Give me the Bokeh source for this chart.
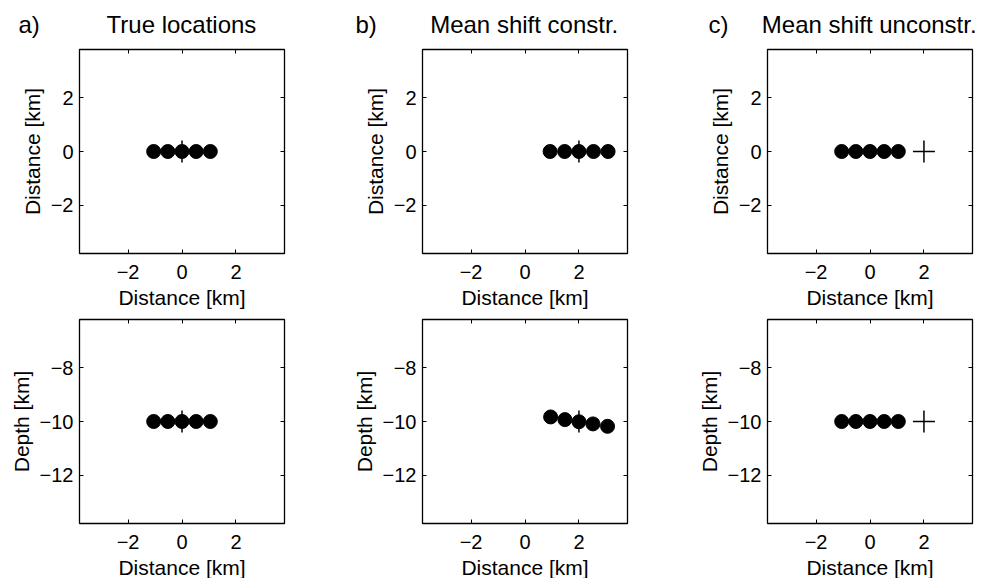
from bokeh.plotting import figure
from bokeh.layouts import column, row
from bokeh.models import LinearAxis, Range1d, FixedTicker
from bokeh.embed import file_html
from bokeh.resources import INLINE

FONT = "Liberation Sans"
NBSP = "\u00a0"

panel_letters = ["a)", "b)", "c)"]
panel_titles = ["True locations", "Mean shift constr.", "Mean shift unconstr."]

dist_ticks = [-2, 0, 2]
dist_tick_labels = ["−2", "0", "2"]
depth_ticks = [-12, -10, -8]
depth_tick_labels = ["−12", "−10", "−8"]

# a) true locations
true_x = [-1.05, -0.525, 0.0, 0.525, 1.05]
true_y = [0.0, 0.0, 0.0, 0.0, 0.0]
true_depth = [-10.0, -10.0, -10.0, -10.0, -10.0]
true_cx, true_cy, true_cz = 0.0, 0.0, -10.0

# b) mean shift constrained
constr_x = [0.93, 1.47, 2.0, 2.54, 3.08]
constr_y = [0.0, 0.0, 0.0, 0.0, 0.0]
constr_dx = [0.95, 1.48, 2.0, 2.52, 3.06]
constr_depth = [-9.83, -9.93, -10.01, -10.09, -10.18]
constr_cx, constr_cy, constr_cz = 2.0, 0.0, -10.0

# c) mean shift unconstrained
unconstr_x = [-1.05, -0.525, 0.0, 0.525, 1.05]
unconstr_y = [0.0, 0.0, 0.0, 0.0, 0.0]
unconstr_depth = [-10.0, -10.0, -10.0, -10.0, -10.0]
unconstr_cx, unconstr_cy, unconstr_cz = 2.0, 0.0, -10.0

HALF = 3.8
FW, FH = 205, 204
BORDER_L = [79, 77, 77]
BORDER_R = [61, 63, 10]
BORDER_T = [49, 6]
BORDER_B = [60, 54]
TITLE_GAP = [10, 8, 5]          # non-breaking spaces between letter and title
TITLE_OFFSET = [-61, -67, -59]  # letter start relative to frame left

TICK_FS = "20px"
LABEL_FS = "21px"
TITLE_FS = "24px"


def style_axis(ax, ticks, labels, show):
    ax.ticker = FixedTicker(ticks=ticks)
    ax.major_tick_in = 4
    ax.major_tick_out = 0
    ax.minor_tick_line_color = None
    ax.major_tick_line_color = "black"
    ax.major_tick_line_width = 1
    ax.axis_line_color = None
    if show:
        ax.major_label_overrides = {t: l for t, l in zip(ticks, labels)}
        ax.major_label_text_font = FONT
        ax.major_label_text_font_size = TICK_FS
        ax.major_label_text_color = "black"
        ax.axis_label_text_font = FONT
        ax.axis_label_text_font_size = LABEL_FS
        ax.axis_label_text_font_style = "normal"
        ax.axis_label_text_color = "black"
    else:
        ax.major_label_overrides = {t: "" for t in ticks}
        ax.major_label_text_font_size = "1px"
        ax.major_label_standoff = 0


def make_panel(ci, ri, xs, ys, cx, cy, ylabel, yticks, ylabels, ycenter):
    p = figure(
        frame_width=FW, frame_height=FH,
        min_border_left=BORDER_L[ci], min_border_right=BORDER_R[ci],
        min_border_top=BORDER_T[ri], min_border_bottom=BORDER_B[ri],
        x_range=Range1d(-HALF, HALF), y_range=Range1d(ycenter - HALF, ycenter + HALF),
        output_backend="svg", toolbar_location=None, tools="",
        background_fill_color="white", border_fill_color="white",
    )
    p.grid.visible = False
    p.outline_line_color = "black"
    p.outline_line_width = 1.3

    style_axis(p.xaxis[0], dist_ticks, dist_tick_labels, True)
    style_axis(p.yaxis[0], yticks, ylabels, True)
    p.xaxis[0].axis_label = "Distance [km]"
    p.xaxis[0].major_label_standoff = 11
    p.xaxis[0].axis_label_standoff = 4
    p.yaxis[0].axis_label = ylabel
    p.yaxis[0].major_label_standoff = 6
    p.yaxis[0].axis_label_standoff = 4

    top = LinearAxis()
    style_axis(top, dist_ticks, dist_tick_labels, False)
    p.add_layout(top, "above")
    right = LinearAxis()
    style_axis(right, yticks, ylabels, False)
    p.add_layout(right, "right")

    p.scatter(xs, ys, marker="circle", size=14, fill_color="black", line_color="black")
    p.scatter([cx], [cy], marker="cross", size=22, line_color="black", line_width=1.5)

    if ri == 0:
        p.title.text = panel_letters[ci] + NBSP * TITLE_GAP[ci] + panel_titles[ci]
        p.title.align = "left"
        p.title.offset = TITLE_OFFSET[ci]
        p.title.text_font = FONT
        p.title.text_font_size = TITLE_FS
        p.title.text_font_style = "normal"
        p.title.text_color = "black"
        p.title.text_line_height = 1.0
        p.title.vertical_align = "top"
        p.title.standoff = 19
    return p


top_row = [
    make_panel(0, 0, true_x, true_y, true_cx, true_cy, "Distance [km]", dist_ticks, dist_tick_labels, 0.0),
    make_panel(1, 0, constr_x, constr_y, constr_cx, constr_cy, "Distance [km]", dist_ticks, dist_tick_labels, 0.0),
    make_panel(2, 0, unconstr_x, unconstr_y, unconstr_cx, unconstr_cy, "Distance [km]", dist_ticks, dist_tick_labels, 0.0),
]
bottom_row = [
    make_panel(0, 1, true_x, true_depth, true_cx, true_cz, "Depth [km]", depth_ticks, depth_tick_labels, -10.0),
    make_panel(1, 1, constr_dx, constr_depth, constr_cx, constr_cz, "Depth [km]", depth_ticks, depth_tick_labels, -10.0),
    make_panel(2, 1, unconstr_x, unconstr_depth, unconstr_cx, unconstr_cz, "Depth [km]", depth_ticks, depth_tick_labels, -10.0),
]

layout = column(row(*top_row, spacing=0), row(*bottom_row, spacing=0), spacing=0)

with open("out.html", "w") as f:
    f.write(file_html(layout, INLINE))
